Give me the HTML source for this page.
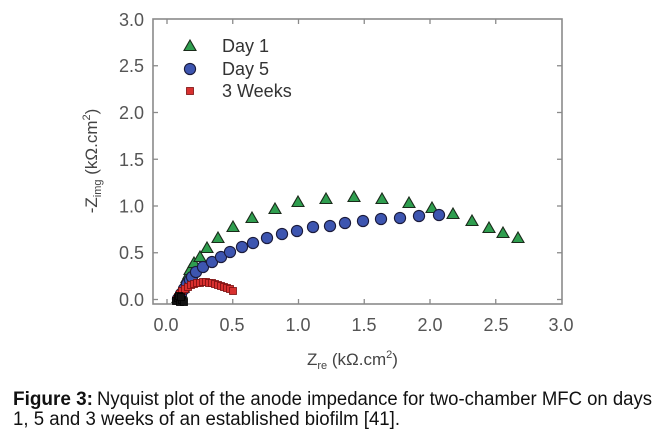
<!DOCTYPE html>
<html>
<head>
<meta charset="utf-8">
<style>
html,body{margin:0;padding:0;background:#fff;}
svg{display:block;}
text{font-family:"Liberation Sans",Arial,sans-serif;}
</style>
</head>
<body>
<svg width="668" height="438" viewBox="0 0 668 438" xmlns="http://www.w3.org/2000/svg">
<rect width="668" height="438" fill="#fff"/>
<defs>
  <polygon id="tri" points="0,-6 6,4.5 -6,4.5" fill="#2f9e4f" stroke="#1a2a1a" stroke-width="1.1"/>
  <circle id="cir" r="5.6" fill="#3d55b0" stroke="#1a1a3a" stroke-width="1.1"/>
  <rect id="sq" x="-3.5" y="-3.5" width="7" height="7" fill="#d8302f" stroke="#7a1010" stroke-width="0.8"/>
  <rect id="bsq" x="-3.5" y="-3.5" width="7" height="7" fill="#111" stroke="#000" stroke-width="0.8"/>
</defs>

<!-- frame -->
<rect x="153" y="19" width="409" height="285" fill="none" stroke="#8a8a8a" stroke-width="1.6"/>

<!-- ticks -->
<g stroke="#8a8a8a" stroke-width="1.3">
  <!-- bottom/top x ticks -->
  <line x1="167" y1="304" x2="167" y2="299"/><line x1="167" y1="19" x2="167" y2="24"/>
  <line x1="232.75" y1="304" x2="232.75" y2="299"/><line x1="232.75" y1="19" x2="232.75" y2="24"/>
  <line x1="298.5" y1="304" x2="298.5" y2="299"/><line x1="298.5" y1="19" x2="298.5" y2="24"/>
  <line x1="364.25" y1="304" x2="364.25" y2="299"/><line x1="364.25" y1="19" x2="364.25" y2="24"/>
  <line x1="430" y1="304" x2="430" y2="299"/><line x1="430" y1="19" x2="430" y2="24"/>
  <line x1="495.75" y1="304" x2="495.75" y2="299"/><line x1="495.75" y1="19" x2="495.75" y2="24"/>
  <!-- left/right y ticks -->
  <line x1="153" y1="299.5" x2="158" y2="299.5"/><line x1="562" y1="299.5" x2="557" y2="299.5"/>
  <line x1="153" y1="252.75" x2="158" y2="252.75"/><line x1="562" y1="252.75" x2="557" y2="252.75"/>
  <line x1="153" y1="206" x2="158" y2="206"/><line x1="562" y1="206" x2="557" y2="206"/>
  <line x1="153" y1="159.25" x2="158" y2="159.25"/><line x1="562" y1="159.25" x2="557" y2="159.25"/>
  <line x1="153" y1="112.5" x2="158" y2="112.5"/><line x1="562" y1="112.5" x2="557" y2="112.5"/>
  <line x1="153" y1="65.75" x2="158" y2="65.75"/><line x1="562" y1="65.75" x2="557" y2="65.75"/>
</g>

<!-- x tick labels -->
<g font-size="18" fill="#555" text-anchor="middle">
  <text x="166" y="331">0.0</text>
  <text x="232" y="331">0.5</text>
  <text x="298" y="331">1.0</text>
  <text x="364" y="331">1.5</text>
  <text x="430" y="331">2.0</text>
  <text x="496" y="331">2.5</text>
  <text x="561" y="331">3.0</text>
</g>
<!-- y tick labels -->
<g font-size="18" fill="#555" text-anchor="end">
  <text x="144" y="306">0.0</text>
  <text x="144" y="259">0.5</text>
  <text x="144" y="212.5">1.0</text>
  <text x="144" y="166">1.5</text>
  <text x="144" y="119">2.0</text>
  <text x="144" y="72">2.5</text>
  <text x="144" y="26">3.0</text>
</g>

<!-- axis titles -->
<text x="307" y="365" font-size="17" fill="#444">Z<tspan font-size="11" dy="4">re</tspan><tspan dy="-4"> (kΩ.cm</tspan><tspan font-size="11" dy="-7">2</tspan><tspan dy="7">)</tspan></text>
<g transform="translate(97,161) rotate(-90)">
  <text x="0" y="0" font-size="17" fill="#444" text-anchor="middle">-Z<tspan font-size="11" dy="4">img</tspan><tspan dy="-4"> (kΩ.cm</tspan><tspan font-size="11" dy="-7">2</tspan><tspan dy="7">)</tspan></text>
</g>

<!-- Day 1 triangles -->
<g>
  <use href="#tri" x="178" y="298"/><use href="#tri" x="181" y="293"/><use href="#tri" x="183" y="288"/>
  <use href="#tri" x="185" y="283"/><use href="#tri" x="187" y="278"/><use href="#tri" x="189" y="274"/>
  <use href="#tri" x="190" y="270"/><use href="#tri" x="194" y="263"/><use href="#tri" x="200" y="257"/>
  <use href="#tri" x="207" y="248"/><use href="#tri" x="218" y="238"/><use href="#tri" x="233" y="227"/>
  <use href="#tri" x="252" y="218"/><use href="#tri" x="275" y="209"/><use href="#tri" x="298" y="202"/>
  <use href="#tri" x="326" y="199"/><use href="#tri" x="354" y="197"/><use href="#tri" x="382" y="199"/>
  <use href="#tri" x="409" y="203"/><use href="#tri" x="432" y="208"/><use href="#tri" x="453" y="214"/>
  <use href="#tri" x="472" y="221"/><use href="#tri" x="489" y="228"/><use href="#tri" x="503" y="233"/>
  <use href="#tri" x="518" y="238"/>
</g>

<!-- Day 5 circles -->
<g>
  <use href="#cir" x="178" y="299"/><use href="#cir" x="181" y="294"/><use href="#cir" x="184" y="289"/>
  <use href="#cir" x="187" y="284"/><use href="#cir" x="190" y="280"/><use href="#cir" x="192" y="277"/>
  <use href="#cir" x="196" y="272"/><use href="#cir" x="203" y="267"/><use href="#cir" x="212" y="262"/>
  <use href="#cir" x="221" y="257"/><use href="#cir" x="230" y="252"/><use href="#cir" x="242" y="247"/>
  <use href="#cir" x="253" y="243"/><use href="#cir" x="267" y="238"/><use href="#cir" x="282" y="234"/>
  <use href="#cir" x="297" y="231"/><use href="#cir" x="313" y="227"/><use href="#cir" x="330" y="226"/>
  <use href="#cir" x="345" y="223"/><use href="#cir" x="363" y="221"/><use href="#cir" x="381" y="219"/>
  <use href="#cir" x="400" y="218"/><use href="#cir" x="419" y="216"/><use href="#cir" x="439" y="215"/>
</g>

<!-- 3 Weeks squares -->
<g>
  <use href="#sq" x="177" y="300"/><use href="#sq" x="178" y="297"/><use href="#sq" x="180" y="294"/>
  <use href="#sq" x="182" y="291"/><use href="#sq" x="185" y="289"/><use href="#sq" x="188" y="287"/>
  <use href="#sq" x="191" y="285"/><use href="#sq" x="194" y="284"/><use href="#sq" x="197" y="283"/>
  <use href="#sq" x="200" y="283"/><use href="#sq" x="203" y="282"/><use href="#sq" x="206" y="282"/>
  <use href="#sq" x="209" y="283"/><use href="#sq" x="212" y="283"/><use href="#sq" x="215" y="284"/>
  <use href="#sq" x="218" y="285"/><use href="#sq" x="221" y="286"/><use href="#sq" x="224" y="287"/>
  <use href="#sq" x="227" y="288"/><use href="#sq" x="230" y="289"/><use href="#sq" x="233" y="291"/>
</g>

<!-- black cluster near origin -->
<g>
  <use href="#bsq" x="176" y="301"/><use href="#bsq" x="178" y="298"/><use href="#bsq" x="180" y="302"/>
  <use href="#bsq" x="182" y="300"/><use href="#bsq" x="179" y="296"/><use href="#bsq" x="184" y="302"/>
  <use href="#bsq" x="181" y="297"/>
</g>

<!-- legend -->
<use href="#tri" x="190" y="46"/>
<use href="#cir" x="190" y="69"/>
<rect x="186.5" y="87.5" width="7" height="7" fill="#d8302f" stroke="#7a1010" stroke-width="0.8"/>
<g font-size="18" fill="#333">
  <text x="222" y="52">Day 1</text>
  <text x="222" y="75">Day 5</text>
  <text x="222" y="97">3 Weeks</text>
</g>

<!-- caption -->
<text x="13" y="405" font-size="19" font-weight="bold" fill="#111" textLength="80" lengthAdjust="spacingAndGlyphs">Figure 3:</text>
<text x="97" y="405" font-size="19" fill="#111" textLength="555" lengthAdjust="spacingAndGlyphs">Nyquist plot of the anode impedance for two-chamber MFC on days</text>
<text x="13" y="425" font-size="19" fill="#111" textLength="387" lengthAdjust="spacingAndGlyphs">1, 5 and 3 weeks of an established biofilm [41].</text>
</svg>
</body>
</html>
